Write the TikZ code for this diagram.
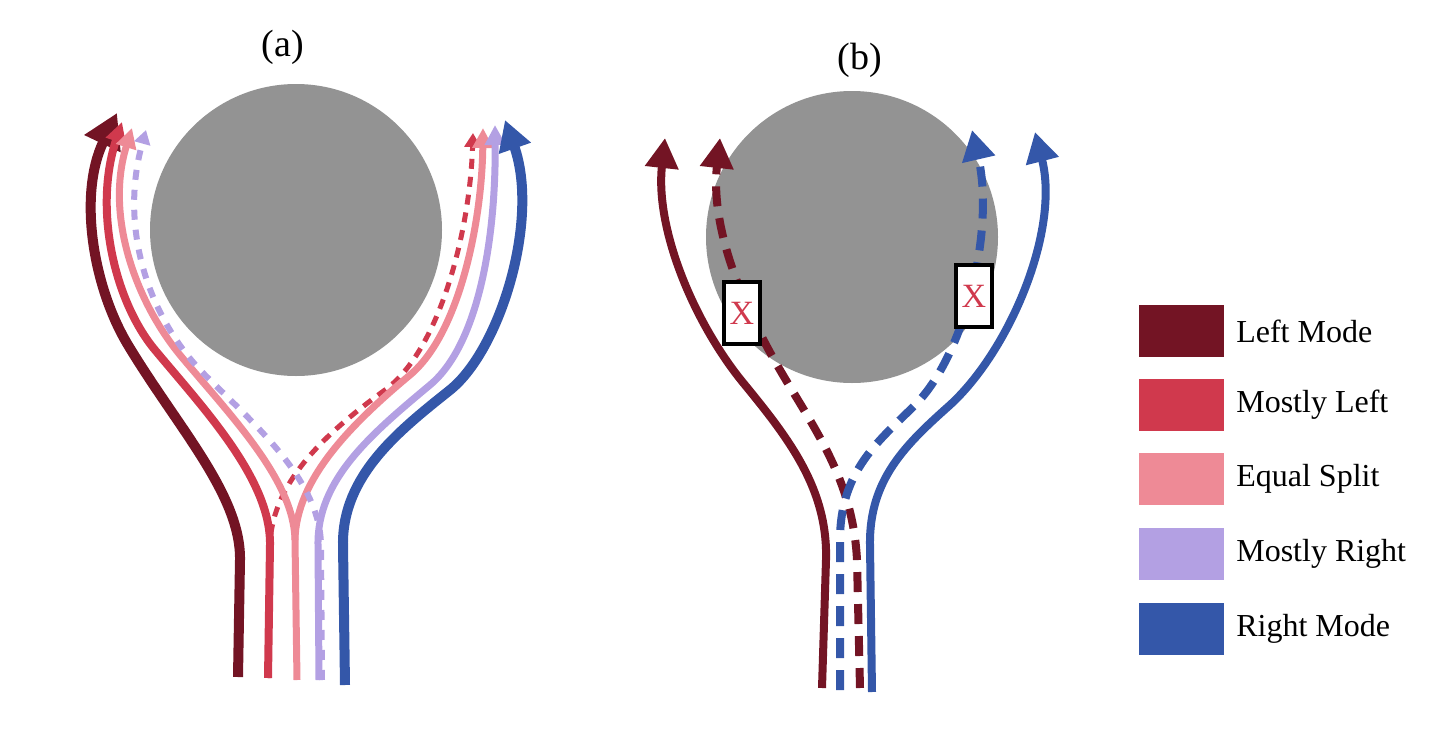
\documentclass[tikz,border=0pt]{standalone}
\usepackage{fontspec}
\setmainfont{Liberation Serif}
\usepackage{xcolor}
\usetikzlibrary{arrows.meta,positioning}
\definecolor{leftmode}{HTML}{731424}
\definecolor{mostlyleft}{HTML}{D0394D}
\definecolor{equalsplit}{HTML}{EE8A96}
\definecolor{mostlyright}{HTML}{B3A0E3}
\definecolor{rightmode}{HTML}{3457A9}
\definecolor{obsgray}{HTML}{939393}

\begin{document}
\begin{tikzpicture}[x=0.5pt, y=-0.5pt, every node/.style={font=\fontsize{16}{19}\selectfont}]
\tikzstyle{obstacle}=[circle, fill=obsgray, minimum size=146pt, inner sep=0pt]
\tikzstyle{traj}=[line join=round, line cap=butt]
\tikzstyle{hugetip}=[-{Triangle[length=17pt,width=19pt]}]
\tikzstyle{bigtip}=[-{Triangle[length=15pt,width=16pt]}]
\tikzstyle{midtip}=[-{Triangle[length=10pt,width=10pt]}]
\tikzstyle{smalltip}=[-{Triangle[length=7pt,width=8pt]}]
\tikzstyle{xbox}=[draw, line width=2pt, fill=white, minimum width=18pt, minimum height=31pt, inner sep=0pt, text=mostlyleft, font=\fontsize{17}{20}\selectfont]
\tikzstyle{swatch}=[minimum width=42.5pt, minimum height=26pt, inner sep=0pt]
\tikzstyle{title}=[font=\fontsize{19}{22}\selectfont]
\useasboundingbox (0,0) rectangle (1436,744);

% (a): all five policies
\node[title] (titleA) at (283,47) {(a)};
\node[obstacle] (obsA) at (296,230) {};
\draw[traj, leftmode, line width=5pt, hugetip] (238,677) -- (240,560) .. controls (241,495) and (178,428) .. (128,345) .. controls (93,287) and (78,195) .. (117,113);
\draw[traj, mostlyleft, line width=4pt, midtip] (268,678) -- (270,545) .. controls (271,480) and (205,410) .. (155,350) .. controls (115,302) and (93,210) .. (122,122);
\draw[traj, mostlyleft, line width=2.5pt, dash pattern=on 5pt off 4pt, smalltip] (268,678) -- (270,545) .. controls (272,480) and (330,430) .. (385,390) .. controls (440,350) and (470,230) .. (473,133);
\draw[traj, equalsplit, line width=3.5pt, midtip] (297,680) -- (295,540) .. controls (294,480) and (230,415) .. (180,355) .. controls (135,300) and (105,215) .. (132,128);
\draw[traj, equalsplit, line width=3.5pt, midtip] (295,540) .. controls (296,480) and (350,425) .. (410,375) .. controls (460,333) and (482,220) .. (483,128);
\draw[traj, mostlyright, line width=3pt, dash pattern=on 5pt off 5pt, smalltip] (322,680) -- (321,545) .. controls (320,480) and (255,425) .. (205,375) .. controls (150,320) and (118,230) .. (146,130);
\draw[traj, mostlyright, line width=3.5pt, midtip] (319,680) -- (318,545) .. controls (317,480) and (370,435) .. (430,385) .. controls (478,345) and (496,240) .. (495,125);
\draw[traj, rightmode, line width=5pt, bigtip] (345,685) -- (343,545) .. controls (342,475) and (400,430) .. (450,390) .. controls (500,350) and (540,220) .. (505,120);

% (b): only the two modes, blocked copies
\node[title] (titleB) at (860,60) {(b)};
\node[obstacle] (obsB) at (852,237) {};
\draw[traj, leftmode, line width=4pt, bigtip] (822,688) -- (826,560) .. controls (828,490) and (790,440) .. (745,385) .. controls (695,325) and (655,230) .. (665,138);
\draw[traj, leftmode, line width=4pt, dash pattern=on 10pt off 6pt, bigtip] (860,688) -- (857,560) .. controls (853,480) and (815,430) .. (780,370) .. controls (745,310) and (710,230) .. (720,138);
\draw[traj, rightmode, line width=4pt, dash pattern=on 10pt off 6pt, bigtip] (840,690) -- (840,540) .. controls (840,470) and (880,440) .. (915,405) .. controls (965,355) and (995,230) .. (972,130);
\draw[traj, rightmode, line width=4pt, bigtip] (872,692) -- (870,545) .. controls (869,480) and (905,445) .. (950,405) .. controls (1010,350) and (1060,230) .. (1035,132);
\node[xbox] (blockL) at (742,313) {X};
\node[xbox] (blockR) at (974,296) {X};

% legend
\foreach \col/\lab/\yy in {leftmode/Left Mode/331, mostlyleft/Mostly Left/405, equalsplit/Equal Split/479, mostlyright/Mostly Right/554, rightmode/Right Mode/629} {
  \node[swatch, fill=\col] (sw-\col) at (1181,\yy) {};
  \node[anchor=west, inner sep=0pt, xshift=6pt] (lab-\col) at (sw-\col.east) {\lab};
}
\end{tikzpicture}
\end{document}
